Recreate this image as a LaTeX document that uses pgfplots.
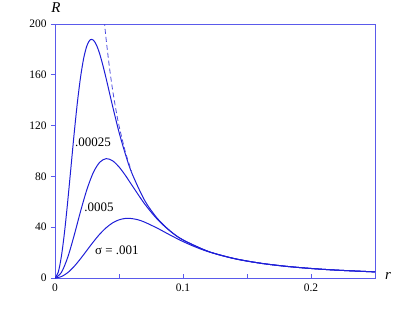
\documentclass[border=0pt]{standalone}
\usepackage{fontspec}
\setmainfont{Liberation Serif}
\usepackage{pgfplots}
\pgfplotsset{compat=1.18}
\definecolor{axblue}{RGB}{90,90,235}
\definecolor{cblue}{RGB}{30,30,215}
\begin{document}
\begin{tikzpicture}
\begin{axis}[name=ax,
  scale only axis, width=320bp, height=254bp,
  xmin=0, xmax=0.25, ymin=0, ymax=200,
  axis line style={axblue, line width=0.9pt},
  xtick={0,0.1,0.2}, xticklabels={0,0.1,0.2},
  minor xtick={0.05,0.15},
  ytick={0,40,80,120,160,200},
  xtick pos=bottom, ytick pos=left,
  x tick style={axblue, line width=0.8pt},
  y tick style={axblue, line width=0.8pt},
  xtick align=inside, ytick align=outside,
  major tick length=4bp, minor tick length=4bp,
  ticklabel style={font=\fontsize{11.5}{13}\selectfont, text=black},
  /pgf/number format/assume math mode=true,
  scaled x ticks=false,
  yticklabel style={xshift=-1bp},
  xticklabel style={yshift=-2bp},
  clip=true,
]
% sigma = .00025
\addplot[cblue, line width=1pt, smooth, no marks] coordinates {(0,0) (0.0025,4.40) (0.005,17.08) (0.0075,36.65) (0.01,61.0) (0.0125,87.5) (0.015,114.1) (0.0175,138.3) (0.02,158.4) (0.0225,173.5) (0.025,183.1) (0.0275,187.6) (0.03,187.3) (0.0325,183.2) (0.035,176.2) (0.0375,167.1) (0.04,156.9) (0.045,135.3) (0.05,114.9) (0.055,97.5) (0.06,82.7) (0.07,61.16) (0.08,46.87) (0.09,37.04) (0.1,30.0) (0.12,20.83) (0.14,15.31) (0.16,11.72) (0.18,9.26) (0.2,7.5) (0.22,6.2) (0.25,4.8)};
% sigma = .0005
\addplot[cblue, line width=1pt, smooth, no marks] coordinates {(0,0) (0.005,4.35) (0.01,16.45) (0.015,33.68) (0.02,52.6) (0.025,69.9) (0.03,83.2) (0.035,91.2) (0.04,94.0) (0.045,92.3) (0.05,87.5) (0.055,80.8) (0.06,73.2) (0.07,58.4) (0.08,46.19) (0.09,36.89) (0.1,29.97) (0.12,20.83) (0.14,15.31) (0.16,11.72) (0.18,9.26) (0.2,7.5) (0.22,6.2) (0.25,4.8)};
% sigma = .001
\addplot[cblue, line width=1pt, smooth, no marks] coordinates {(0,0) (0.005,1.10) (0.01,4.27) (0.015,9.16) (0.02,15.25) (0.025,21.9) (0.03,28.5) (0.035,34.6) (0.04,39.6) (0.045,43.4) (0.05,45.8) (0.055,46.9) (0.06,46.8) (0.065,45.8) (0.07,44.0) (0.08,39.2) (0.09,33.8) (0.1,28.7) (0.11,24.32) (0.12,20.67) (0.14,15.29) (0.16,11.72) (0.18,9.26) (0.2,7.5) (0.22,6.2) (0.25,4.8)};
% asymptote
\addplot[cblue!80, line width=0.8pt, smooth, no marks, dash pattern=on 5bp off 3bp] coordinates {(0.0385,202.4) (0.04,187.5) (0.0425,166.1) (0.045,148.1) (0.0475,133.0) (0.05,120.0) (0.055,99.2) (0.06,83.3)};
\node[font=\fontsize{13}{15}\selectfont] at (axis cs:0.0297,106.5) {.00025};
\node[font=\fontsize{13}{15}\selectfont] at (axis cs:0.0344,55.9) {.0005};
\node[font=\fontsize{13}{15}\selectfont] at (axis cs:0.0484,21.5) {σ = .001};
\end{axis}
\node[font=\fontsize{15}{17}\selectfont\itshape] at ([shift={(1bp,16bp)}]ax.north west) {R};
\node[font=\fontsize{15}{17}\selectfont\itshape] at ([shift={(13bp,2bp)}]ax.south east) {r};
\pgfresetboundingbox
\path ([shift={(-55bp,-35bp)}]ax.south west) rectangle ([shift={(40bp,24bp)}]ax.north east);
\end{tikzpicture}
\end{document}
